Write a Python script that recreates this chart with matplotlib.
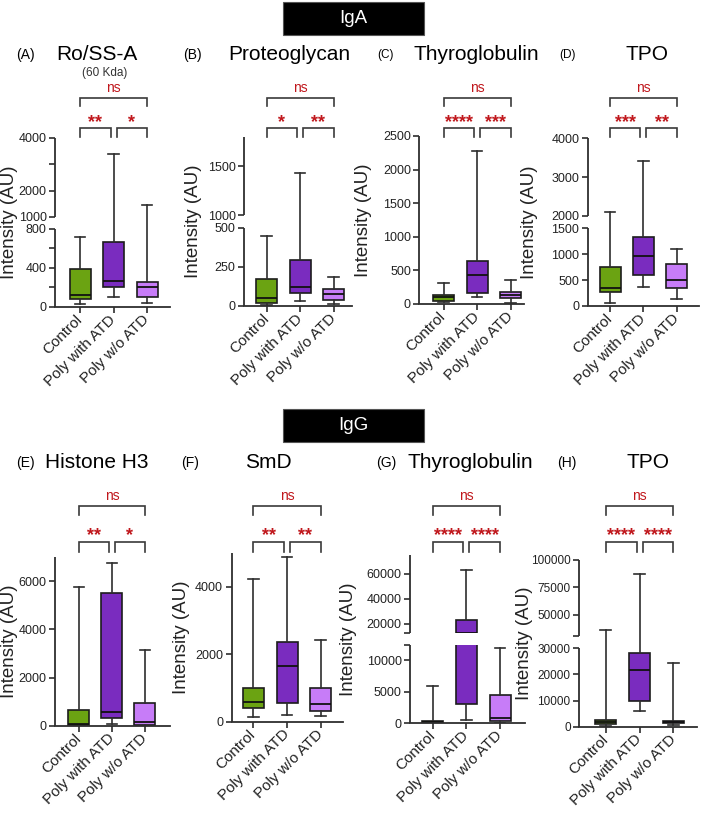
import numpy as np
import matplotlib
matplotlib.use("Agg")
import matplotlib.pyplot as plt
from matplotlib.patches import Rectangle
from matplotlib.transforms import blended_transform_factory

plt.rcParams['font.family'] = ['Liberation Sans', 'DejaVu Sans']

groups = ["Control", "Poly with ATD", "Poly w/o ATD"]

# box stats per group: [whisker low, q1, median, q3, whisker high]
iga_ro_ssa = [[30, 82, 123, 390, 718], [103, 205, 267, 667, 3400], [41, 103, 205, 257, 1450]]
iga_proteoglycan = [[5, 21, 53, 170, 445], [34, 81, 123, 293, 1430], [13, 38, 75, 106, 187]]
iga_thyroglobulin = [[25, 49, 100, 134, 310], [109, 159, 432, 644, 2270], [20, 85, 134, 183, 357]]
iga_tpo = [[64, 264, 342, 747, 2100], [373, 598, 965, 1326, 3420], [129, 342, 502, 805, 1095]]
igg_histone = [[0, 20, 60, 660, 5780], [50, 330, 590, 5500, 6760], [0, 30, 165, 960, 3150]]
igg_smd = [[130, 420, 580, 1000, 4250], [200, 550, 1640, 2370, 4900], [180, 330, 520, 1000, 2440]]
igg_thyroglobulin = [[0, 60, 200, 380, 5900], [500, 3000, 13000, 23200, 63000], [50, 300, 800, 4500, 12000]]
igg_tpo = [[300, 1200, 1800, 2600, 36000], [6000, 9800, 21700, 28300, 87000], [600, 1500, 1900, 2200, 24300]]

# significance: ctrl vs ATD, ATD vs w/o, ctrl vs w/o
sig_a = ["**", "*", "ns"]
sig_b = ["*", "**", "ns"]
sig_c = ["****", "***", "ns"]
sig_d = ["***", "**", "ns"]
sig_e = ["**", "*", "ns"]
sig_f = ["**", "**", "ns"]
sig_g = ["****", "****", "ns"]
sig_h = ["****", "****", "ns"]

colors = ["#6ba312", "#7a2cbf", "#c77cf8"]
red = "#c0171c"
axc = "#2e2e2e"

W, H = 702, 817
fig = plt.figure(figsize=(W / 100, H / 100), dpi=100)

def fy(py):
    return 1 - py / H

# bracket rows (pixel y): ns, top bracket, drop, stars, low bracket, drop
rows = [dict(title=55, ns=88, top=98, tdrop=8, star=116, low=128, ldrop=9),
        dict(title=463, ns=496, top=506, tdrop=9, star=529, low=542, ldrop=10)]

panels = [
    dict(data=iga_ro_ssa, sig=sig_a, title="Ro/SS-A", sub="(60 Kda)", letter="(A)", row=0,
         box=(55, 170, 138, 307), centers=(80, 113.5, 147),
         segs=[(0, 800), (1000, 4000)], split=(78, 12),
         ticks=[0, 200, 400, 600, 800, 1000, 2000, 3000, 4000],
         labels=["0", "", "400", "", "800", "1000", "2000", "", "4000"],
         ylab=18, tx=97, lx=25, lfs=10, tfs=9),
    dict(data=iga_proteoglycan, sig=sig_b, title="Proteoglycan", letter="(B)", row=0,
         box=(244, 352, 136.7, 306), centers=(266.7, 300.7, 333.5),
         segs=[(0, 500), (1000, 1800)], split=(78.3, 12.7),
         ticks=[0, 250, 500, 1000, 1500], labels=["0", "250", "500", "1000", "1500"],
         ylab=202, tx=289, lx=192, lfs=10, tfs=9),
    dict(data=iga_thyroglobulin, sig=sig_c, title="Thyroglobulin", letter="(C)", row=0,
         box=(419.3, 524, 136, 304), centers=(443.5, 477, 510.5),
         segs=[(0, 2500)],
         ticks=[0, 500, 1000, 1500, 2000, 2500], labels=["0", "500", "1000", "1500", "2000", "2500"],
         ylab=372, tx=476, lx=386, lfs=8.5, tfs=9),
    dict(data=iga_tpo, sig=sig_d, title="TPO", letter="(D)", row=0,
         box=(587.7, 699, 138.3, 306), centers=(610, 643.3, 676.7),
         segs=[(0, 1500), (2000, 4000)], split=(77.7, 12.3),
         ticks=[0, 500, 1000, 1500, 2000, 3000, 4000],
         labels=["0", "500", "1000", "1500", "2000", "3000", "4000"],
         ylab=538, tx=647, lx=567, lfs=8.5, tfs=9),
    dict(data=igg_histone, sig=sig_e, title="Histone H3", letter="(E)", row=1,
         box=(55, 170, 557.3, 725.7), centers=(79, 112.7, 145),
         segs=[(0, 7000)],
         ticks=[0, 2000, 4000, 6000], labels=["0", "2000", "4000", "6000"],
         ylab=18, tx=97, lx=25, lfs=10, tfs=9),
    dict(data=igg_smd, sig=sig_f, title="SmD", letter="(F)", row=1,
         box=(231.5, 343, 553.3, 721.7), centers=(253.3, 286.7, 320.7),
         segs=[(0, 5000)],
         ticks=[0, 2000, 4000], labels=["0", "2000", "4000"],
         ylab=190, tx=268, lx=190, lfs=10, tfs=9),
    dict(data=igg_thyroglobulin, sig=sig_g, title="Thyroglobulin", letter="(G)", row=1,
         box=(410, 525, 555, 723), centers=(432.7, 466.7, 500),
         segs=[(0, 12500), (13000, 75000)], split=(78.5, 12), cut=True,
         ticks=[0, 5000, 10000, 12500, 13000, 20000, 40000, 60000],
         labels=["0", "5000", "10000", "", "", "20000", "40000", "60000"],
         ylab=357, tx=470, lx=386, lfs=10, tfs=9),
    dict(data=igg_tpo, sig=sig_h, title="TPO", letter="(H)", row=1,
         box=(579, 697, 560, 726.7), centers=(605.7, 639, 673.3),
         segs=[(0, 30000), (30500, 100000)], split=(78.4, 12.3),
         ticks=[0, 10000, 20000, 30000, 30500, 50000, 75000, 100000],
         labels=["0", "10000", "20000", "30000", "", "50000", "75000", "100000"],
         ylab=533, tx=648, lx=567, lfs=10, tfs=8.5),
]

def piecewise(segs, lower_frac, gap_frac):
    (lo1, hi1), (lo2, hi2) = segs
    xp = [lo1, hi1, lo2, hi2]
    fp = [0.0, lower_frac, lower_frac + gap_frac, 1.0]
    return (lambda v: np.interp(v, xp, fp)), (lambda t: np.interp(t, fp, xp))

for p in panels:
    left, right, top, bottom = p["box"]
    c1, c2, c3 = p["centers"]
    sp = (c3 - c1) / 2
    ax = fig.add_axes([left / W, fy(bottom), (right - left) / W, (bottom - top) / H])
    ax.patch.set_visible(False)
    segs = p["segs"]
    if len(segs) == 2:
        hpx = bottom - top
        fwd, inv = piecewise(segs, p["split"][0] / hpx, p["split"][1] / hpx)
        ax.set_yscale("function", functions=(fwd, inv))
    ax.set_ylim(segs[0][0], segs[-1][1])
    ax.set_xlim(1 - (c1 - left) / sp, 3 + (right - c3) / sp)

    stats = [dict(whislo=d[0], q1=d[1], med=d[2], q3=d[3], whishi=d[4], fliers=[]) for d in p["data"]]
    bw = 21 / sp
    res = ax.bxp(stats, positions=[1, 2, 3], widths=bw, capwidths=bw * 0.5,
                 patch_artist=True, showfliers=False,
                 boxprops=dict(edgecolor="#1c1c1c", linewidth=1.2),
                 medianprops=dict(color="#111111", linewidth=1.3),
                 whiskerprops=dict(color=axc, linewidth=1.2),
                 capprops=dict(color=axc, linewidth=1.2))
    for patch, col in zip(res["boxes"], colors):
        patch.set_facecolor(col)
    if p.get("cut"):
        ax.axhspan(segs[0][1], segs[1][0], color="white", zorder=2.5, lw=0)

    for s in ["top", "right", "left"]:
        ax.spines[s].set_visible(False)
    ax.spines["bottom"].set_color(axc)
    ax.spines["bottom"].set_linewidth(1.3)
    for lo, hi in segs:
        ax.plot([0, 0], [lo, hi], transform=ax.get_yaxis_transform(), color=axc,
                lw=1.3, clip_on=False, solid_capstyle="butt", zorder=3)

    ax.set_yticks(p["ticks"], p["labels"])
    ax.tick_params(axis="y", length=4.5, width=1.2, color=axc, labelsize=p["tfs"], pad=1.5,
                   labelcolor="#222222")
    ax.set_xticks([1, 2, 3], groups, rotation=45, ha="right", va="center",
                  rotation_mode="anchor", fontsize=11, color="#222222")
    ax.tick_params(axis="x", length=4.5, width=1.2, color=axc, pad=3)
    ax.set_ylabel("Intensity (AU)", fontsize=13.5, color="#222222")
    ax.yaxis.set_label_coords((p["ylab"] - left) / (right - left), 0.5)

    r = rows[p["row"]]
    fig.text(p["tx"] / W, fy(r["title"]), p["title"], fontsize=15, ha="center", va="center")
    fig.text(p["lx"] / W, fy(r["title"]), p["letter"], fontsize=p["lfs"], ha="center", va="center")
    if "sub" in p:
        fig.text((p["tx"] + 8) / W, fy(73), p["sub"], fontsize=8.5, ha="center", va="center",
                 color="#333333")

    tr = blended_transform_factory(ax.transData, fig.transFigure)
    bk = dict(color="#3a3a3a", lw=1.2, clip_on=False, transform=tr, solid_joinstyle="miter")
    g = 3 / sp
    # upper bracket control vs w/o
    ax.plot([1, 1, 3, 3], [fy(r["top"] + r["tdrop"]), fy(r["top"]), fy(r["top"]), fy(r["top"] + r["tdrop"])], **bk)
    ax.text(2, fy(r["ns"]), p["sig"][2], transform=tr, ha="center", va="center", color=red, fontsize=10)
    # lower brackets
    for (a, b), s in zip([(1, 2 - g), (2 + g, 3)], p["sig"][:2]):
        ax.plot([a, a, b, b], [fy(r["low"] + r["ldrop"]), fy(r["low"]), fy(r["low"]), fy(r["low"] + r["ldrop"])], **bk)
        fs = 13
        ax.text((a + b) / 2, fy(r["star"] + 0.59 * fs * 100 / 72), s, transform=tr, ha="center",
                va="baseline", color=red, fontsize=fs, fontweight="bold")

# header boxes
for label, yc in [("IgA", 18.5), ("IgG", 426)]:
    fig.add_artist(Rectangle((283 / W, fy(yc + 16.5)), 141 / W, 33 / H, transform=fig.transFigure,
                             facecolor="black", edgecolor="#555555", lw=0.8))
    fig.text(353.5 / W, fy(yc), label, color="white", fontsize=13.5, ha="center", va="center")

fig.savefig("out.png", dpi=100)
